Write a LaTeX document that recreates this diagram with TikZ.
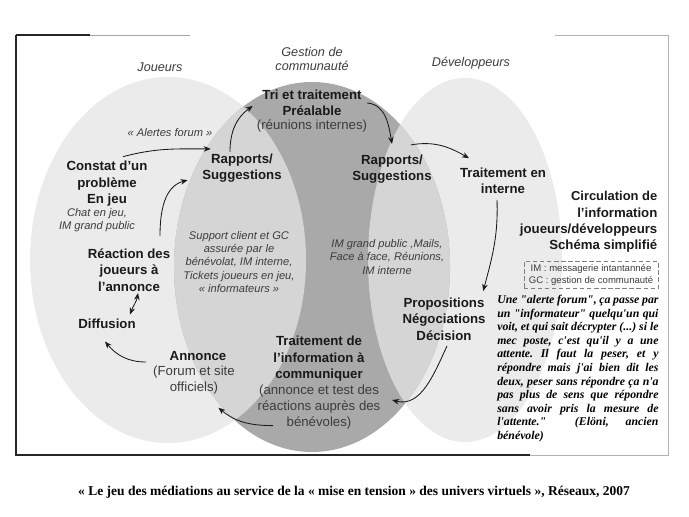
\documentclass[tikz,border=0pt]{standalone}
\usepackage{fontspec}
\setmainfont{Liberation Sans}
\newfontfamily\citefont{Liberation Serif}
\usetikzlibrary{arrows.meta,calc}
\frenchspacing
\definecolor{GrisClair}{HTML}{EBEBEB}
\definecolor{GrisMoyen}{HTML}{D5D5D5}
\definecolor{GrisFonce}{HTML}{A9A9A9}
\definecolor{Encre}{HTML}{1A1A1A}
\definecolor{EncreNote}{HTML}{3C3C3C}
\tikzset{
  titre/.style={font=\bfseries\fontsize{9.4}{11.7}\selectfont, align=center, text=Encre, inner sep=1pt},
  detail/.style={font=\fontsize{9.4}{11.2}\selectfont, align=center, text=EncreNote, inner sep=1pt},
  note/.style={font=\itshape\fontsize{7.9}{9.5}\selectfont, align=center, text=EncreNote, inner sep=1pt},
  univers/.style={font=\itshape\fontsize{9}{10.6}\selectfont, align=center, text=EncreNote},
  legende/.style={font=\fontsize{6.8}{8.5}\selectfont, align=center, text=EncreNote, draw=black!50, dash pattern=on 3pt off 2pt, minimum width=3.35cm, inner sep=2pt},
  citation/.style={font=\citefont\bfseries\itshape\fontsize{8.4}{9.65}\selectfont, text width=4.03cm, align=justify, inner sep=0pt, anchor=north west},
  source/.style={font=\citefont\bfseries\fontsize{9.6}{11}\selectfont},
  fleche/.style={draw=Encre, line width=0.6pt, -{Stealth[length=5pt,width=4pt]}},
  doublefleche/.style={draw=Encre, line width=0.6pt, {Stealth[length=5pt,width=4pt]}-{Stealth[length=5pt,width=4pt]}},
}
\begin{document}
\begin{tikzpicture}[x=0.025cm,y=-0.025cm]
\path[use as bounding box] (0,0) rectangle (689,517);
\fill[GrisClair] (168,260) ellipse [x radius=138,y radius=183];
\fill[GrisClair] (465,260) ellipse [x radius=97,y radius=182];
\fill[GrisFonce] (312,267) ellipse [x radius=138,y radius=185];
\begin{scope}
\clip (312,267) ellipse [x radius=138,y radius=185];
\fill[GrisMoyen] (168,260) ellipse [x radius=138,y radius=183];
\fill[GrisMoyen] (465,260) ellipse [x radius=97,y radius=182];
\end{scope}
\draw[black!85,line width=0.9pt] (16,35) -- (16,455) -- (530,455);
\draw[black!30,line width=0.6pt] (530,455) -- (668,455) -- (668,35) -- (555,35);
\draw[black!35,line width=0.6pt] (90,35) -- (190,35);
\draw[black!85,line width=0.9pt] (16,35) -- (90,35);
\node[univers] (joueurs) at (160,67) {Joueurs};
\node[univers] (gestion) at (312,59) {Gestion de\\communauté};
\node[univers] (devs) at (471,63) {Développeurs};
\node[titre] (tri) at (312,103) {Tri et traitement\\Préalable};
\node[detail] (trisub) at (312,126) {(réunions internes)};
\node[note] (alertes) at (170,133) {«~Alertes forum~»};
\node[titre] (rapG) at (242,168) {Rapports/\\Suggestions};
\node[titre] (rapD) at (392,169) {Rapports/\\Suggestions};
\node[titre] (interne) at (503,181) {Traitement en\\interne};
\node[titre] (constat) at (107,184) {Constat d’un\\problème\\En jeu};
\node[note] (constatsub) at (97,220) {Chat en jeu,\\IM grand public};
\node[note] (support) at (239,262) {Support client et GC\\assurée par le\\bénévolat, IM interne,\\Tickets joueurs en jeu,\\«~informateurs~»};
\node[note] (imgp) at (387,257) {IM grand public ,Mails,\\Face à face, Réunions,\\IM interne};
\node[titre,align=right,anchor=east] (circ) at (659,222) {\fontsize{9.2}{10.5}\selectfont Circulation de\\l’information\\joueurs/développeurs\\Schéma simplifié};
\node[legende] (abrev) at (591,275) {IM : messagerie intantannée\\GC : gestion de communauté};
\node[titre] (reaction) at (129,270) {Réaction des\\joueurs à\\l’annonce};
\node[titre] (diffusion) at (107,324) {Diffusion};
\node[titre] (propos) at (444,319) {Propositions\\Négociations\\Décision};
\node[citation] (temoin) at (497,295) {Une "alerte forum", ça passe par\linebreak un "informateur" quelqu'un qui\linebreak voit, et qui sait décrypter (...) si le\linebreak mec poste, c'est qu'il y a une\linebreak attente. Il faut la peser, et y\linebreak répondre mais j'ai bien dit les\linebreak deux, peser sans répondre ça n'a\linebreak pas plus de sens que répondre\linebreak sans avoir pris la mesure de\linebreak l'attente." \quad (Elöni, ancien\linebreak bénévole)};
\node[titre] (annonce) at (198,356) {Annonce};
\node[detail] (annoncesub) at (194,380) {(Forum et site\\officiels)};
\node[titre] (traitinfo) at (319,359) {Traitement de\\l’information à\\communiquer};
\node[detail] (traitsub) at (319,407) {(annonce et test des\\réactions auprès des\\bénévoles)};
\node[source] (titresource) at (354,492) {«~Le jeu des médiations au service de la «~mise en tension~» des univers virtuels~», Réseaux, 2007};
\draw[fleche] ($(constat.north)+(16,-3)$) to[out=15,in=180] ($(rapG.north west)+(10,-3)$);
\draw[fleche] ($(reaction.north)+(31,-11)$) to[out=90,in=195] ($(rapG.south west)+(-13,-4)$);
\draw[fleche] ($(rapG.north)+(-12,0)$) to[out=90,in=215] ($(tri.west)+(-8,3)$);
\draw[fleche] ($(tri.east)+(4,0)$) to[out=-5,in=100] ($(rapD.north)+(0,-9)$);
\draw[fleche] ($(rapD.north)+(19,-8)$) to[out=10,in=150] ($(interne.north)+(-34,-8)$);
\draw[fleche] ($(interne.south)+(-6,4)$) to[out=-88,in=75] ($(propos.north east)+(-4,-5)$);
\draw[fleche] ($(propos.south)+(3,4)$) to[out=-115,in=-15] ($(traitsub.east)+(10,-7)$);
\draw[fleche] ($(traitsub.south west)+(17,-5)$) to[out=180,in=-40] ($(annoncesub.south east)+(-18,12)$);
\draw[fleche] ($(annonce.west)+(-22,6)$) to[out=180,in=-50] ($(diffusion.south)+(-2,11)$);
\draw[doublefleche] ($(diffusion.north)+(23,-3)$) to[out=70,in=-100] ($(reaction.south)+(9,0)$);
\end{tikzpicture}
\end{document}
